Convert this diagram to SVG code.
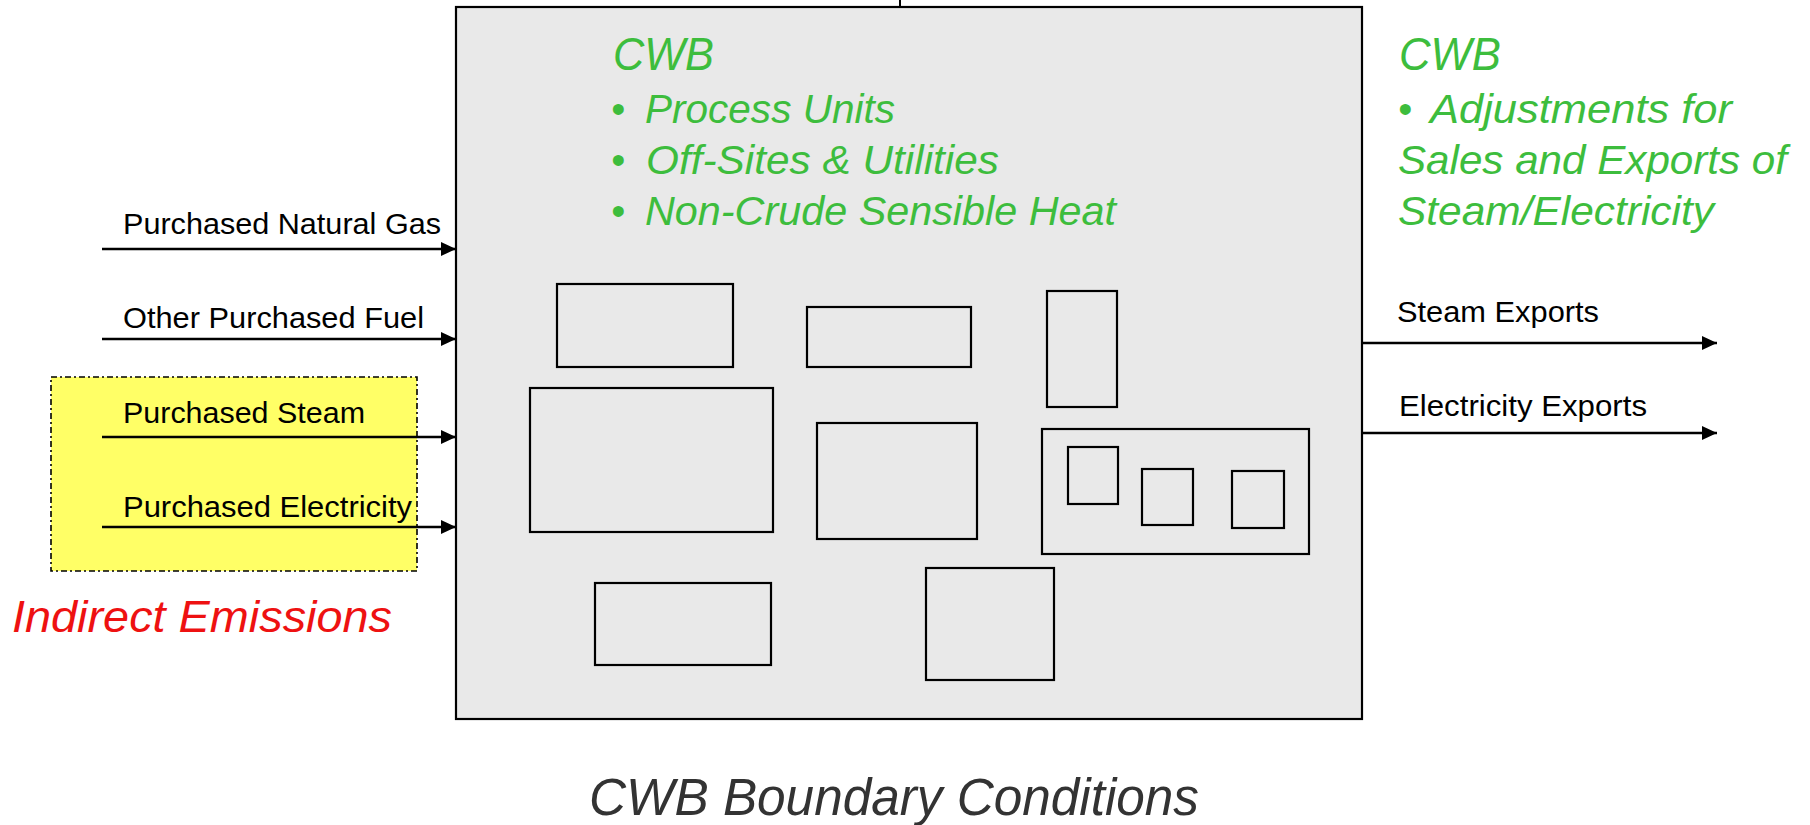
<svg xmlns="http://www.w3.org/2000/svg" width="1810" height="825" viewBox="0 0 1810 825">
<defs>
<style>
.lbl{font-family:"Liberation Sans",Arial,sans-serif;font-size:30px;fill:#000}
.grn{font-family:"Liberation Sans",Arial,sans-serif;font-style:italic;font-size:40px;fill:#3dbd3d}
.grnh{font-family:"Liberation Sans",Arial,sans-serif;font-style:italic;font-size:46px;fill:#3dbd3d}
.red{font-family:"Liberation Sans",Arial,sans-serif;font-style:italic;font-size:45px;fill:#ee1111}
.ttl{font-family:"Liberation Sans",Arial,sans-serif;font-style:italic;font-size:51px;fill:#333}
.unit{fill:none;stroke:#000;stroke-width:2.2}
.conn{stroke:#000;stroke-width:2.5;fill:none;marker-end:url(#ah)}
</style>
<marker id="ah" markerUnits="userSpaceOnUse" markerWidth="16" markerHeight="16" viewBox="0 0 16 16" refX="15" refY="8" orient="auto">
<path d="M0,1 L15,8 L0,15 Z" fill="#000"/>
</marker>
</defs>
<rect width="1810" height="825" fill="#fff"/>

<g id="indirect-emissions">
<rect x="51" y="377" width="366" height="194" fill="#ffff66" stroke="#000" stroke-width="1.6" stroke-dasharray="6,3,2,3"/>
<text class="red" x="12" y="632" textLength="380" lengthAdjust="spacingAndGlyphs">Indirect Emissions</text>
</g>

<g id="cwb-boundary">
<rect x="456" y="7" width="906" height="712" fill="#e9e9e9" stroke="#000" stroke-width="2.2"/>
<text class="grnh" x="613" y="70" textLength="101" lengthAdjust="spacingAndGlyphs">CWB</text>
<text class="grn" y="123"><tspan x="611">•</tspan><tspan x="645" textLength="250" lengthAdjust="spacingAndGlyphs">Process Units</tspan></text>
<text class="grn" y="174"><tspan x="611">•</tspan><tspan x="646" textLength="353" lengthAdjust="spacingAndGlyphs">Off-Sites &amp; Utilities</tspan></text>
<text class="grn" y="225"><tspan x="611">•</tspan><tspan x="645" textLength="471" lengthAdjust="spacingAndGlyphs">Non-Crude Sensible Heat</tspan></text>
</g>

<g id="units">
<rect class="unit" x="557" y="284" width="176" height="83"/>
<rect class="unit" x="807" y="307" width="164" height="60"/>
<rect class="unit" x="1047" y="291" width="70" height="116"/>
<rect class="unit" x="530" y="388" width="243" height="144"/>
<rect class="unit" x="817" y="423" width="160" height="116"/>
<rect class="unit" x="1042" y="429" width="267" height="125"/>
<rect class="unit" x="1068" y="447" width="50" height="57"/>
<rect class="unit" x="1142" y="469" width="51" height="56"/>
<rect class="unit" x="1232" y="471" width="52" height="57"/>
<rect class="unit" x="595" y="583" width="176" height="82"/>
<rect class="unit" x="926" y="568" width="128" height="112"/>
</g>

<g id="exports-note">
<text class="grnh" x="1399" y="70" textLength="102" lengthAdjust="spacingAndGlyphs">CWB</text>
<text class="grn" y="123"><tspan x="1398">•</tspan><tspan x="1430" textLength="302" lengthAdjust="spacingAndGlyphs">Adjustments for</tspan></text>
<text class="grn" x="1398" y="174" textLength="389" lengthAdjust="spacingAndGlyphs">Sales and Exports of</text>
<text class="grn" x="1398" y="225" textLength="316" lengthAdjust="spacingAndGlyphs">Steam/Electricity</text>
</g>

<g id="connectors">
<line x1="900" y1="0" x2="900" y2="7" stroke="#000" stroke-width="2"/>
<line class="conn" x1="102" y1="249" x2="456" y2="249"/>
<line class="conn" x1="102" y1="339" x2="456" y2="339"/>
<line class="conn" x1="102" y1="437" x2="456" y2="437"/>
<line class="conn" x1="102" y1="527" x2="456" y2="527"/>
<line class="conn" x1="1362" y1="343" x2="1717" y2="343"/>
<line class="conn" x1="1362" y1="433" x2="1717" y2="433"/>
</g>

<g id="labels">
<text class="lbl" x="123" y="234" textLength="318" lengthAdjust="spacingAndGlyphs">Purchased Natural Gas</text>
<text class="lbl" x="123" y="328" textLength="301" lengthAdjust="spacingAndGlyphs">Other Purchased Fuel</text>
<text class="lbl" x="123" y="423" textLength="242" lengthAdjust="spacingAndGlyphs">Purchased Steam</text>
<text class="lbl" x="123" y="517" textLength="289" lengthAdjust="spacingAndGlyphs">Purchased Electricity</text>
<text class="lbl" x="1397" y="322" textLength="202" lengthAdjust="spacingAndGlyphs">Steam Exports</text>
<text class="lbl" x="1399" y="416" textLength="248" lengthAdjust="spacingAndGlyphs">Electricity Exports</text>
</g>

<g id="title">
<text class="ttl" x="589" y="815" textLength="610" lengthAdjust="spacingAndGlyphs">CWB Boundary Conditions</text>
</g>
</svg>
